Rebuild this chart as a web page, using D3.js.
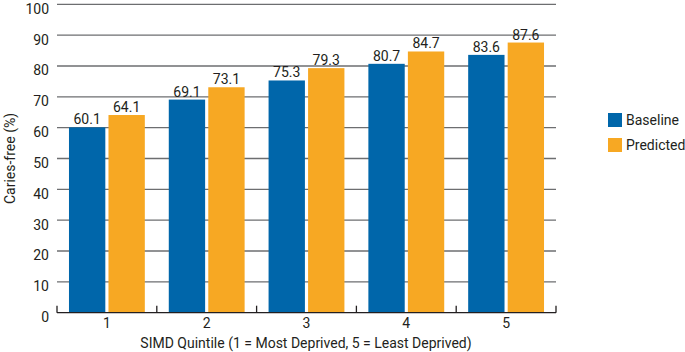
<!DOCTYPE html>
<html>
<head>
<meta charset="utf-8">
<script src="https://cdn.jsdelivr.net/npm/d3@7"></script>
<style>
  body { margin: 0; background: #fff; }
  svg text { font-family: Roboto, "Open Sans", sans-serif; fill: #231f20; }
</style>
</head>
<body>
<svg id="chart" width="685" height="352"></svg>
<script>
// data
const quintiles = ["1", "2", "3", "4", "5"]
const baseline = [60.1, 69.1, 75.3, 80.7, 83.6]
const predicted = [64.1, 73.1, 79.3, 84.7, 87.6]
const seriesNames = ["Baseline", "Predicted"]
const yTicks = [0, 10, 20, 30, 40, 50, 60, 70, 80, 90, 100]

const colors = ["#0066aa", "#f7a823"]
const margin = {top: 4.3, right: 129, bottom: 39.3, left: 57}
const width = 685, height = 352

const svg = d3.select("#chart")

let x = d3.scaleBand()
  .domain(quintiles)
  .range([margin.left, width - margin.right])
  .paddingInner(0.24)
  .paddingOuter(0.12)

let x1 = d3.scaleBand()
  .domain(seriesNames)
  .range([0, x.bandwidth()])
  .paddingInner(0.08)

let y = d3.scaleLinear()
  .domain([0, 100])
  .range([height - margin.bottom, margin.top])

// gridlines
svg.append("g")
  .selectAll("line")
  .data(yTicks.filter(d => d > 0))
  .join("line")
  .attr("x1", margin.left)
  .attr("x2", width - margin.right)
  .attr("y1", d => y(d))
  .attr("y2", d => y(d))
  .attr("stroke", "#6d6e70")
  .attr("stroke-width", 1.3)

// y tick labels (sit a little below their gridline, as in the original)
svg.append("g")
  .selectAll("text")
  .data(yTicks)
  .join("text")
  .attr("x", margin.left - 8)
  .attr("y", d => y(d) + 4.5)
  .attr("dy", "0.35em")
  .attr("text-anchor", "end")
  .style("font-size", "14px")
  .text(d => d)

// bars
const rows = quintiles.map((q, i) => ({q, values: [baseline[i], predicted[i]]}))

let groups = svg.append("g")
  .selectAll("g")
  .data(rows)
  .join("g")
  .attr("transform", d => "translate(" + x(d.q) + ",0)")

groups.selectAll("rect")
  .data(d => d.values.map((v, j) => ({s: seriesNames[j], v, j})))
  .join("rect")
  .attr("x", d => x1(d.s))
  .attr("width", x1.bandwidth())
  .attr("y", d => y(d.v))
  .attr("height", d => y(0) - y(d.v))
  .attr("fill", d => colors[d.j])

groups.selectAll("text")
  .data(d => d.values.map((v, j) => ({s: seriesNames[j], v, j})))
  .join("text")
  .attr("x", d => x1(d.s) + x1.bandwidth() / 2)
  .attr("y", d => y(d.v) - 3)
  .attr("text-anchor", "middle")
  .style("font-size", "14px")
  .text(d => d.v.toFixed(1))

// x axis: baseline with upward ticks at band edges
let xAxis = svg.append("g")
const edges = d3.range(quintiles.length + 1).map(i => margin.left + i * (width - margin.right - margin.left) / quintiles.length)

xAxis.append("line")
  .attr("x1", margin.left)
  .attr("x2", width - margin.right)
  .attr("y1", y(0))
  .attr("y2", y(0))
  .attr("stroke", "#231f20")
  .attr("stroke-width", 1.3)

xAxis.selectAll(".tk")
  .data(edges)
  .join("line")
  .attr("class", "tk")
  .attr("x1", d => d)
  .attr("x2", d => d)
  .attr("y1", y(0))
  .attr("y2", y(0) - 7)
  .attr("stroke", "#231f20")
  .attr("stroke-width", 1.3)

xAxis.selectAll("text")
  .data(quintiles)
  .join("text")
  .attr("x", d => x(d) + x.bandwidth() / 2)
  .attr("y", 328)
  .attr("text-anchor", "middle")
  .style("font-size", "14px")
  .text(d => d)

// axis titles
svg.append("text")
  .attr("x", 306)
  .attr("y", 348)
  .attr("text-anchor", "middle")
  .style("font-size", "14px")
  .text("SIMD Quintile (1 = Most Deprived, 5 = Least Deprived)")

svg.append("text")
  .attr("transform", "translate(15," + (y(50)) + ") rotate(-90)")
  .attr("text-anchor", "middle")
  .style("font-size", "14px")
  .text("Caries-free (%)")

// legend
let legend = svg.append("g")
  .selectAll("g")
  .data(seriesNames)
  .join("g")
  .attr("transform", (d, i) => "translate(608," + (113 + i * 25) + ")")

legend.append("rect")
  .attr("width", 14)
  .attr("height", 14)
  .attr("fill", (d, i) => colors[i])

legend.append("text")
  .attr("x", 18)
  .attr("y", 7)
  .attr("dy", "0.35em")
  .style("font-size", "14px")
  .text(d => d)
</script>
</body>
</html>
